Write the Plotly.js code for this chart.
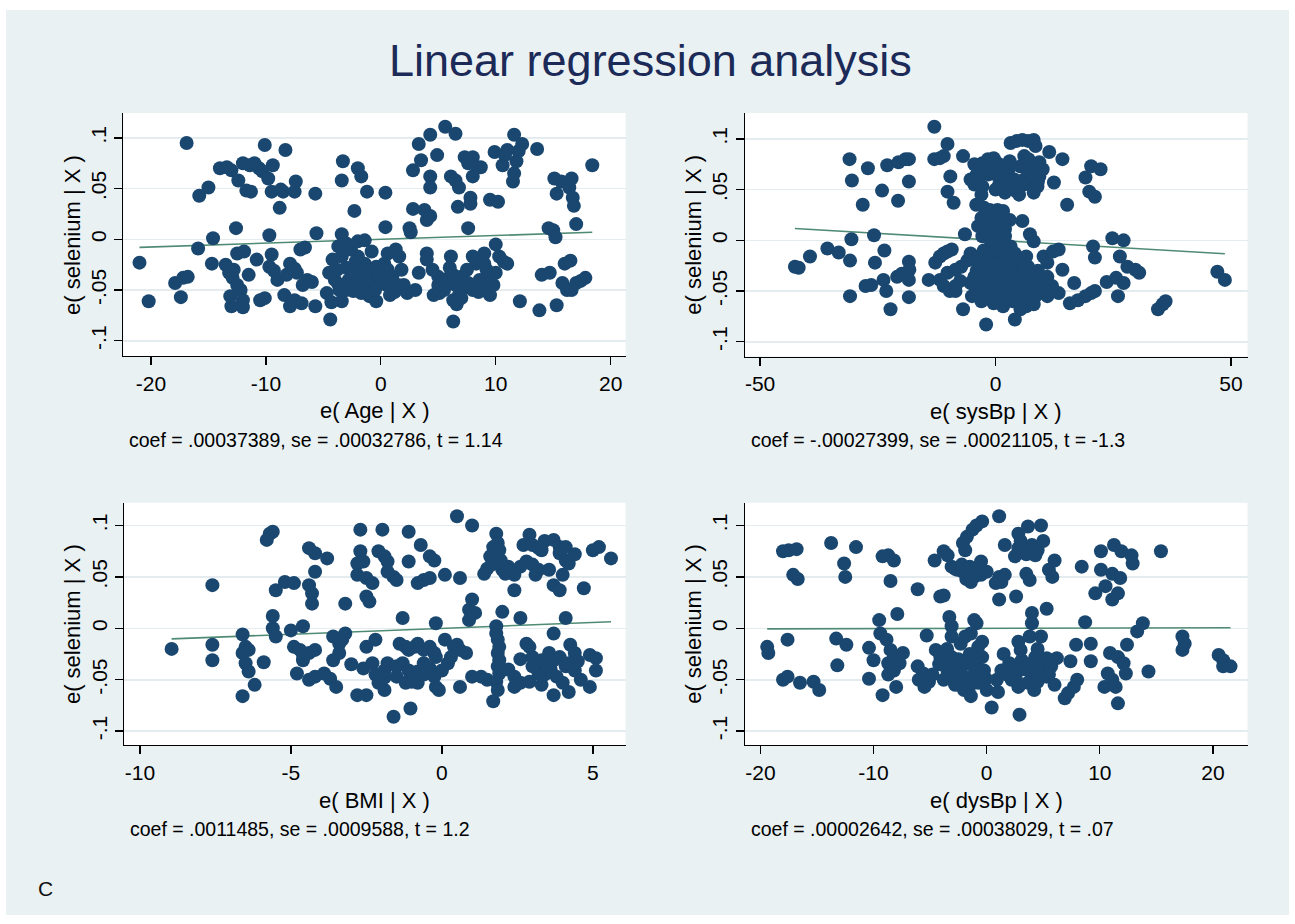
<!DOCTYPE html>
<html><head><meta charset="utf-8">
<script src="https://cdn.plot.ly/plotly-3.0.1.min.js"></script>
<style>html,body{margin:0;padding:0;background:#fff}#chart{width:1295px;height:924px}</style>
</head><body><div id="chart"></div>
<script>
// ---- data: [e(x|X), e(selenium|X)] ----
const agePoints = [[-21.0,-0.023],[-20.2,-0.061],[-16.9,0.095],[-17.9,-0.043],[-17.2,-0.038],[-16.8,-0.037],[-17.4,-0.057],[-15.8,0.043],[-15.0,0.051],[-15.9,-0.009],[-14.6,0.001],[-14.7,-0.024],[-14.0,0.070],[-13.4,0.071],[-13.0,0.068],[-13.5,-0.025],[-13.2,-0.033],[-12.9,-0.038],[-12.5,-0.045],[-12.2,-0.050],[-13.1,-0.056],[-13.0,-0.066],[-12.0,-0.067],[-12.6,0.011],[-12.4,0.058],[-11.7,0.048],[-11.3,0.047],[-12.5,-0.014],[-11.9,-0.012],[-12.0,0.075],[-11.4,0.073],[-11.0,0.075],[-10.6,0.070],[-10.3,0.067],[-10.5,-0.060],[-10.1,-0.058],[-10.8,-0.020],[-10.1,0.093],[-9.7,0.004],[-9.8,0.060],[-9.5,-0.015],[-9.4,0.073],[-9.5,0.047],[-8.7,0.049],[-8.5,0.047],[-8.8,0.031],[-9.0,-0.040],[-9.7,-0.027],[-9.3,-0.031],[-8.3,0.088],[-8.4,-0.055],[-7.9,-0.066],[-7.5,-0.060],[-7.9,-0.024],[-7.5,-0.029],[-7.3,-0.033],[-7.0,-0.010],[-6.6,-0.008],[-7.4,0.057],[-7.5,0.047],[-6.9,-0.063],[-5.7,-0.066],[-6.4,-0.040],[-6.0,-0.042],[-5.7,0.045],[-5.6,0.006],[-4.7,-0.053],[-4.4,-0.079],[-4.5,-0.033],[-4.0,-0.040],[-3.7,-0.044],[-3.4,-0.061],[-3.3,0.077],[-3.4,0.058],[-2.0,0.070],[-1.7,0.062],[-1.2,0.047],[-2.3,0.028],[-3.4,0.005],[-3.7,-0.007],[-3.4,-0.017],[-3.0,-0.004],[-2.6,-0.010],[-2.0,-0.002],[-1.4,-0.001],[-2.0,-0.017],[-1.4,-0.024],[-3.0,-0.050],[-2.4,-0.051],[-1.7,-0.053],[-1.0,-0.056],[-0.4,-0.061],[-2.0,-0.033],[-1.4,-0.040],[-0.7,-0.037],[-0.4,-0.027],[0.3,-0.024],[0.6,-0.030],[1.0,-0.037],[0.4,0.046],[0.4,0.012],[0.6,-0.014],[1.3,-0.010],[1.6,-0.017],[2.0,-0.045],[2.3,-0.053],[3.0,-0.050],[3.3,-0.033],[2.8,0.068],[3.5,0.078],[3.3,0.094],[4.3,0.103],[3.8,0.029],[4.0,0.019],[4.3,0.023],[4.3,0.062],[4.3,0.051],[4.9,0.083],[2.8,0.030],[2.5,0.011],[2.6,0.007],[4.0,-0.014],[4.0,-0.020],[5.0,-0.037],[5.3,-0.043],[5.1,-0.053],[5.7,-0.040],[6.0,-0.037],[5.6,0.111],[6.5,0.104],[6.1,0.062],[6.5,0.058],[6.8,0.051],[6.7,0.032],[7.3,0.081],[7.6,0.075],[8.0,0.081],[8.4,0.071],[8.0,0.062],[7.8,0.041],[7.8,0.035],[7.6,0.011],[6.1,-0.017],[6.3,-0.035],[6.3,-0.060],[6.6,-0.064],[6.3,-0.081],[7.0,-0.037],[7.6,-0.043],[8.0,-0.050],[8.6,-0.040],[9.0,-0.050],[9.3,-0.037],[9.5,-0.055],[8.0,-0.017],[8.3,-0.024],[9.0,-0.024],[9.0,-0.014],[8.7,0.071],[9.5,0.039],[10.2,0.037],[10.0,-0.005],[10.3,-0.017],[10.7,-0.022],[11.0,-0.024],[9.9,0.086],[10.6,0.073],[10.8,0.083],[11.0,0.088],[11.5,0.057],[11.6,0.065],[11.8,0.077],[12.0,0.087],[11.6,0.103],[12.3,0.094],[10.0,-0.033],[12.1,-0.061],[13.6,0.089],[14.0,-0.035],[14.7,-0.033],[13.8,-0.070],[15.3,-0.065],[14.6,0.011],[15.0,0.009],[15.2,0.002],[15.1,0.060],[15.3,0.045],[15.7,0.057],[16.6,0.060],[16.4,0.051],[15.8,-0.043],[16.2,-0.050],[16.6,-0.050],[17.0,-0.043],[17.4,-0.041],[17.8,-0.038],[16.7,0.041],[16.8,0.033],[17.0,0.015],[16.0,-0.024],[16.5,-0.021],[18.4,0.073],[-1.0,-0.045],[0.0,-0.040],[-0.5,-0.050],[1.5,-0.045],[0.8,-0.055],[-2.5,-0.040],[5.5,-0.050],[7.2,-0.048],[8.8,-0.045],[6.8,-0.055],[9.8,-0.045],[-12.8,-0.030],[-11.5,-0.035],[-12.0,-0.060],[-6.8,-0.045],[-8.2,-0.035],[-4.2,-0.020],[-3.8,-0.030],[-3.0,-0.028],[-2.2,-0.022],[-1.8,-0.045],[-1.0,-0.030],[-0.2,-0.035],[0.5,-0.045],[1.2,-0.052],[-2.8,-0.040],[-3.6,-0.050],[4.5,-0.030],[5.0,-0.045],[6.0,-0.028],[6.5,-0.045],[7.5,-0.030],[8.5,-0.052],[9.2,-0.030],[4.6,-0.055],[7.0,-0.058],[-4.3,-0.062],[1.8,-0.030],[-0.8,-0.012]];

const sysBpPoints = [[-42.6,-0.026],[-41.8,-0.027],[-39.4,-0.016],[-35.7,-0.008],[-33.3,-0.012],[-31.0,0.080],[-30.5,0.059],[-30.6,0.001],[-30.9,-0.020],[-30.9,-0.055],[-28.2,0.035],[-27.1,0.071],[-25.8,0.005],[-25.6,-0.022],[-27.6,-0.045],[-26.4,-0.044],[-24.1,0.049],[-23.6,-0.010],[-23.8,-0.039],[-23.2,-0.050],[-22.3,-0.068],[-23.0,0.074],[-20.7,0.039],[-20.6,0.077],[-19.1,0.080],[-18.4,0.080],[-18.4,0.058],[-20.9,-0.036],[-19.9,-0.033],[-18.4,-0.021],[-18.3,-0.029],[-18.4,-0.039],[-18.4,-0.056],[-14.2,-0.039],[-12.8,-0.022],[-11.8,-0.016],[-11.0,-0.013],[-10.2,-0.011],[-9.3,-0.009],[-13.0,0.080],[-11.8,0.081],[-11.0,0.083],[-13.0,0.112],[-10.2,0.095],[-9.6,0.063],[-10.2,0.048],[-8.9,0.037],[-11.8,-0.039],[-11.0,-0.045],[-9.7,-0.050],[-8.5,-0.045],[-10.2,-0.032],[-8.5,-0.029],[-7.3,-0.026],[-6.9,0.083],[-6.5,0.006],[-6.9,-0.068],[-5.3,0.060],[-4.5,0.055],[-3.7,0.058],[-2.8,0.053],[-4.5,0.075],[-2.8,0.076],[-1.6,0.080],[-0.4,0.081],[0.4,0.076],[1.2,0.073],[-4.1,0.035],[-2.4,0.032],[-1.2,0.030],[0.4,0.030],[1.6,0.029],[-3.7,0.014],[-2.0,0.017],[-0.4,0.012],[1.2,0.015],[2.0,0.011],[-2.8,0.004],[-1.2,0.006],[0.4,0.001],[-5.3,-0.013],[-4.5,-0.019],[-3.7,-0.016],[-2.8,-0.026],[-2.0,-0.022],[-1.2,-0.029],[-0.4,-0.013],[0.4,-0.019],[1.6,-0.009],[2.4,-0.016],[3.2,-0.006],[4.1,-0.013],[4.9,-0.026],[5.7,-0.019],[6.5,-0.016],[6.9,-0.026],[-5.3,-0.042],[-4.1,-0.049],[-2.8,-0.045],[-1.6,-0.052],[-0.4,-0.049],[0.4,-0.042],[1.6,-0.045],[2.8,-0.052],[3.7,-0.055],[4.5,-0.049],[5.7,-0.042],[6.5,-0.052],[7.3,-0.055],[8.5,-0.050],[9.3,-0.042],[10.2,-0.039],[-4.5,-0.036],[-2.0,-0.036],[0.4,-0.034],[2.8,-0.037],[5.3,-0.034],[7.7,-0.036],[-2.0,-0.083],[-0.4,-0.062],[1.6,-0.065],[3.7,-0.060],[5.3,-0.068],[6.5,-0.065],[8.1,-0.063],[4.1,-0.078],[3.2,0.096],[4.5,0.098],[5.7,0.099],[6.9,0.098],[8.1,0.099],[8.5,0.093],[6.1,0.083],[5.3,0.073],[6.9,0.070],[6.1,0.060],[7.7,0.058],[8.9,0.053],[9.3,0.063],[8.1,0.047],[2.8,0.070],[2.4,0.055],[3.7,0.050],[2.0,0.047],[4.5,0.048],[5.7,0.019],[7.3,0.006],[8.1,-0.001],[11.4,0.087],[9.3,0.077],[12.4,0.057],[14.2,0.080],[15.2,0.035],[10.2,-0.016],[11.0,-0.022],[12.2,-0.011],[13.4,-0.009],[14.2,-0.029],[11.0,-0.036],[11.0,-0.055],[13.4,-0.052],[15.8,-0.062],[16.7,-0.042],[17.5,-0.059],[19.1,-0.055],[20.3,-0.052],[21.1,-0.050],[19.1,0.062],[20.3,0.073],[22.3,0.070],[19.9,0.048],[21.1,0.043],[20.7,-0.006],[21.1,-0.017],[24.8,0.002],[27.2,0.000],[23.6,-0.041],[25.6,-0.037],[27.2,-0.042],[26.4,-0.016],[26.0,-0.055],[28.0,-0.026],[29.7,-0.029],[30.5,-0.032],[34.5,-0.068],[35.5,-0.063],[36.1,-0.060],[47.1,-0.031],[48.7,-0.039],[-1.0,-0.005],[1.0,-0.030],[-3.0,-0.060],[2.0,-0.020],[-1.5,0.065],[0.8,0.055],[3.0,-0.040],[-0.8,-0.045],[1.8,-0.058],[-2.5,-0.010],[-6.0,-0.020],[-4.0,-0.030],[-2.0,-0.040],[0.0,-0.025],[2.0,-0.035],[4.0,-0.045],[6.0,-0.030],[8.0,-0.045],[-5.0,-0.055],[-1.0,-0.058],[3.0,-0.030],[5.0,-0.058],[7.0,-0.040],[9.0,-0.030],[1.0,-0.050],[-3.0,-0.045],[0.0,-0.010],[-1.5,-0.020],[3.5,-0.020],[6.0,-0.045],[8.5,-0.055],[-3.5,-0.028],[1.2,-0.062],[10.5,-0.048],[12.0,-0.045],[-7.5,-0.040],[-8.5,-0.050],[-4.0,0.065],[-2.0,0.070],[0.0,0.065],[2.0,0.060],[4.0,0.060],[6.0,0.055],[8.0,0.065],[10.0,0.070],[-3.0,0.045],[0.0,0.050],[5.0,0.045],[9.0,0.058],[7.0,0.080],[-1.0,0.075],[3.0,0.078],[-3.0,0.022],[-1.0,0.020],[1.0,0.022],[3.0,0.020],[-2.0,0.008],[0.0,0.008],[2.0,0.004]];

const bmiPoints = [[-8.95,-0.020],[-7.6,0.042],[-7.6,-0.016],[-7.6,-0.031],[-6.6,-0.006],[-6.5,-0.018],[-6.4,-0.021],[-6.6,-0.024],[-6.5,-0.034],[-6.4,-0.042],[-6.6,-0.066],[-6.2,-0.055],[-5.9,-0.033],[-5.8,0.086],[-5.7,0.092],[-5.6,0.094],[-5.6,0.012],[-5.6,0.000],[-5.5,-0.008],[-5.5,0.037],[-5.2,0.045],[-4.9,0.044],[-5.0,-0.002],[-4.9,-0.018],[-4.7,-0.021],[-4.6,-0.026],[-4.4,-0.024],[-4.6,-0.031],[-4.2,-0.021],[-4.8,-0.044],[-4.4,-0.050],[-4.2,-0.047],[-3.9,-0.044],[-3.7,-0.049],[-3.5,-0.057],[-4.6,0.002],[-4.4,0.042],[-4.3,0.034],[-4.3,0.024],[-4.4,0.078],[-4.2,0.073],[-3.8,0.068],[-4.2,0.055],[-3.6,-0.008],[-3.4,-0.015],[-3.3,-0.011],[-3.2,-0.005],[-3.6,-0.031],[-3.4,-0.024],[-3.2,0.024],[-2.8,-0.065],[-2.5,-0.065],[-2.7,0.096],[-2.7,0.075],[-2.6,0.065],[-2.8,0.063],[-2.8,0.052],[-2.5,0.049],[-2.3,0.044],[-2.5,0.031],[-2.4,0.026],[-2.5,-0.018],[-2.2,-0.011],[-2.6,-0.039],[-2.3,-0.034],[-2.2,-0.045],[-1.9,-0.041],[-1.8,-0.034],[-2.1,-0.053],[-1.9,-0.060],[-1.97,0.096],[-2.1,0.075],[-1.9,0.070],[-1.8,0.065],[-1.8,0.055],[-1.6,0.050],[-1.5,0.047],[-1.6,-0.086],[-1.04,-0.078],[-1.3,0.010],[-1.4,-0.015],[-1.2,-0.018],[-1.1,-0.021],[-0.9,-0.018],[-0.8,-0.015],[-0.6,-0.021],[-0.4,-0.018],[-0.25,-0.024],[-1.5,-0.037],[-1.3,-0.034],[-1.1,-0.041],[-0.95,-0.047],[-0.8,-0.042],[-0.6,-0.034],[-0.4,-0.039],[-0.25,-0.047],[-0.2,-0.057],[-0.1,-0.060],[-1.5,-0.047],[-1.2,-0.053],[-1.0,-0.052],[-0.8,-0.053],[-1.1,0.094],[-0.7,0.081],[-0.4,0.070],[-0.25,0.066],[-1.1,0.065],[-0.8,0.044],[-0.6,0.047],[-0.4,0.049],[-0.2,0.005],[0.1,0.052],[0.1,-0.011],[0.4,-0.018],[0.5,-0.016],[0.6,-0.021],[0.8,-0.024],[0.2,-0.034],[0.3,-0.028],[0.0,-0.041],[0.6,-0.057],[0.5,0.109],[1.0,0.100],[0.6,0.049],[0.9,0.018],[1.0,0.028],[1.1,0.015],[0.9,0.008],[1.0,-0.047],[1.3,-0.047],[1.5,-0.050],[1.4,0.053],[1.5,0.058],[1.65,0.062],[1.8,0.070],[1.7,0.079],[1.8,0.092],[1.85,0.083],[1.9,0.076],[1.95,0.066],[2.0,0.057],[2.1,0.053],[2.2,0.060],[2.4,0.052],[1.8,0.002],[1.8,-0.005],[1.85,-0.011],[1.9,-0.018],[1.85,-0.024],[1.9,-0.031],[1.85,-0.037],[1.9,-0.044],[1.8,-0.052],[1.85,-0.060],[1.7,-0.071],[2.0,0.016],[2.4,0.037],[2.6,0.010],[2.4,-0.047],[2.6,-0.053],[2.4,-0.057],[2.8,-0.015],[2.9,-0.018],[3.0,-0.028],[3.0,-0.037],[3.2,-0.034],[3.3,-0.031],[3.2,-0.044],[2.9,-0.052],[2.7,0.081],[2.9,0.091],[3.0,0.081],[3.2,0.078],[3.3,0.076],[2.8,0.065],[3.0,0.062],[3.2,0.057],[3.1,0.052],[3.55,0.057],[3.7,0.042],[3.9,0.037],[3.7,0.086],[3.9,0.079],[3.9,0.073],[4.1,0.079],[4.1,0.066],[4.0,0.052],[4.2,0.063],[4.1,0.010],[3.7,-0.005],[3.55,-0.024],[3.7,-0.031],[3.9,-0.028],[4.1,-0.037],[4.2,-0.034],[3.8,-0.047],[4.0,-0.053],[3.7,-0.065],[4.2,-0.062],[4.25,-0.016],[4.4,-0.024],[4.4,-0.041],[4.7,0.039],[4.9,-0.026],[5.1,-0.029],[5.1,-0.041],[4.9,-0.057],[5.0,0.076],[5.2,0.079],[5.6,0.068],[2.2,-0.040],[3.4,-0.045],[3.6,-0.040],[4.5,-0.032],[4.6,-0.050],[3.3,-0.055],[2.6,-0.030],[-0.6,-0.045],[-1.9,-0.048],[-3.0,-0.035],[4.4,0.072],[3.4,0.085],[2.6,0.060],[1.6,0.070],[-0.2,-0.028]];

const dysBpPoints = [[-19.4,-0.018],[-19.3,-0.024],[-18.0,-0.050],[-17.6,-0.047],[-18.0,0.075],[-17.5,0.076],[-16.8,0.077],[-17.1,0.052],[-16.7,0.048],[-17.6,-0.011],[-16.5,-0.053],[-15.3,-0.052],[-14.8,-0.060],[-13.75,0.083],[-13.3,-0.010],[-13.2,-0.036],[-12.6,0.063],[-12.5,0.050],[-12.4,-0.016],[-11.55,0.079],[-10.4,-0.019],[-10.0,-0.031],[-10.4,-0.049],[-9.5,0.008],[-9.4,-0.005],[-9.2,0.070],[-8.7,0.071],[-8.2,0.066],[-8.5,0.046],[-8.85,-0.011],[-8.5,-0.021],[-8.2,-0.028],[-8.7,-0.034],[-8.2,-0.041],[-7.7,-0.034],[-7.4,-0.024],[-9.2,-0.065],[-8.7,-0.045],[-8.0,-0.057],[-7.9,0.014],[-6.1,0.038],[-6.1,-0.037],[-5.6,-0.044],[-6.0,-0.050],[-5.5,-0.057],[-5.1,-0.052],[-4.8,-0.045],[-5.3,-0.007],[-4.5,-0.021],[-4.1,-0.028],[-3.6,-0.034],[-3.1,-0.028],[-3.45,-0.042],[-2.8,-0.047],[-2.3,-0.041],[-1.75,-0.034],[-1.4,-0.047],[-1.1,-0.052],[-0.75,-0.053],[-1.6,-0.060],[-1.4,-0.066],[-4.1,0.031],[-3.8,0.032],[-4.6,0.066],[-3.8,0.075],[-3.45,0.071],[-3.3,0.011],[-3.1,0.002],[-3.1,-0.008],[-3.1,0.060],[-2.6,0.057],[-2.1,0.055],[-1.6,0.053],[-1.1,0.050],[-1.4,0.045],[-0.75,0.057],[-2.1,0.083],[-1.9,0.076],[-1.75,0.089],[-1.25,0.096],[-0.9,0.100],[-0.4,0.104],[-2.3,-0.015],[-1.9,-0.008],[-1.4,-0.005],[-0.9,0.005],[-1.1,0.008],[-0.75,-0.018],[-0.4,-0.013],[-0.4,-0.028],[-0.9,-0.034],[-0.24,-0.041],[-0.07,-0.049],[0.44,-0.077],[0.9,-0.050],[1.1,0.109],[1.1,0.050],[1.3,0.045],[0.8,0.044],[1.6,0.052],[1.1,0.028],[1.6,0.081],[1.3,-0.041],[1.8,-0.045],[2.3,-0.041],[2.0,-0.034],[2.8,0.092],[2.6,0.031],[2.8,-0.013],[3.0,-0.021],[3.1,-0.031],[2.6,-0.050],[2.8,-0.057],[2.9,-0.084],[2.8,0.078],[3.3,0.075],[3.65,0.078],[4.0,0.081],[4.3,0.071],[3.5,0.053],[3.8,0.047],[3.65,0.099],[4.8,0.100],[4.0,0.015],[4.0,0.005],[3.8,-0.008],[4.8,-0.008],[4.3,-0.028],[4.8,-0.034],[5.3,-0.029],[4.7,-0.041],[4.0,-0.047],[3.65,-0.053],[4.5,-0.052],[5.3,-0.047],[5.7,-0.037],[6.2,-0.029],[5.3,0.019],[5.5,0.057],[5.8,0.050],[6.0,0.066],[6.9,-0.068],[7.2,-0.063],[7.7,-0.057],[8.0,-0.050],[7.9,-0.016],[7.4,-0.032],[8.4,0.060],[8.7,0.006],[9.2,-0.015],[9.2,-0.032],[9.6,0.034],[10.1,0.075],[10.1,0.057],[10.5,0.041],[10.4,-0.057],[10.7,-0.044],[11.1,-0.050],[11.4,-0.057],[11.6,-0.073],[10.9,-0.024],[11.6,-0.028],[12.1,-0.034],[12.3,-0.044],[11.1,0.028],[11.6,0.034],[11.1,0.053],[11.8,0.049],[11.25,0.081],[11.9,0.075],[12.8,0.071],[12.9,0.063],[12.4,-0.016],[13.3,-0.003],[13.8,0.005],[14.3,-0.042],[15.4,0.075],[17.3,-0.008],[17.5,-0.015],[17.3,-0.021],[20.5,-0.026],[20.9,-0.031],[20.9,-0.037],[21.55,-0.037],[-2.0,-0.050],[-1.0,-0.040],[-2.5,-0.055],[0.0,0.055],[-0.5,0.065],[3.5,-0.040],[4.2,-0.060],[-3.0,-0.050],[-4.2,-0.035],[-3.8,-0.050],[-3.0,-0.040],[-2.5,-0.030],[-2.0,-0.060],[-1.5,-0.025],[-1.0,-0.030],[-0.5,-0.045],[0.0,-0.060],[-3.5,-0.020],[-2.8,-0.055],[1.5,-0.025],[2.2,-0.050],[3.0,-0.040],[3.8,-0.035],[4.5,-0.020],[5.5,-0.045],[6.0,-0.055],[1.0,-0.062],[-2.8,0.058],[-2.2,0.062],[-1.5,0.060],[-1.0,0.058],[-0.5,0.052],[-1.8,0.048],[3.0,0.085],[3.5,0.072],[4.5,0.076],[5.0,0.085],[2.5,0.070]];

// fitted lines (end points)
const ageFitX = [-21.0, 18.4],  ageFitY = [-0.0079, 0.0069];
const sysFitX = [-42.6, 48.7],  sysFitY = [0.0117, -0.0133];
const bmiFitX = [-8.95, 5.6],   bmiFitY = [-0.0103, 0.0064];
const dysFitX = [-19.4, 21.55], dysFitY = [-0.0005, 0.0006];

// tick labels
const yTickVals = [-0.1, -0.05, 0, 0.05, 0.1];
const yTickText = ['-.1', '-.05', '0', '.05', '.1'];
const ageTicks = [-20, -10, 0, 10, 20];
const sysTicks = [-50, 0, 50];
const bmiTicks = [-10, -5, 0, 5];
const dysTicks = [-20, -10, 0, 10, 20];

// texts
const mainTitle = 'Linear regression analysis';
const yTitle = 'e( selenium | X )';
const xTitles = ['e( Age | X )', 'e( sysBp | X )', 'e( BMI | X )', 'e( dysBp | X )'];
const notes = ['coef = .00037389, se = .00032786, t = 1.14',
               'coef = -.00027399, se = .00021105, t = -1.3',
               'coef = .0011485, se = .0009588, t = 1.2',
               'coef = .00002642, se = .00038029, t = .07'];
const panelLabel = 'C';

// ---- drawing ----
const W = 1295, H = 924;
const FONT = 'Liberation Sans, Arial, sans-serif';
const NAVY = '#1a476f', LINE = '#4f8b74', BG = '#e9f1f3', GRID = '#e4ecef';
const px = v => v / W, py = v => 1 - v / H;

const sets = [agePoints, sysBpPoints, bmiPoints, dysBpPoints];
const fits = [[ageFitX, ageFitY], [sysFitX, sysFitY], [bmiFitX, bmiFitY], [dysFitX, dysFitY]];
const traces = [];
sets.forEach((pts, i) => {
  const ax = i === 0 ? '' : String(i + 1);
  traces.push({type: 'scatter', mode: 'lines', x: fits[i][0], y: fits[i][1],
    xaxis: 'x' + ax, yaxis: 'y' + ax, line: {color: LINE, width: 1.6},
    hoverinfo: 'skip', showlegend: false});
  traces.push({type: 'scatter', mode: 'markers', x: pts.map(p => p[0]), y: pts.map(p => p[1]),
    xaxis: 'x' + ax, yaxis: 'y' + ax, marker: {color: NAVY, size: 14, line: {width: 0}},
    hoverinfo: 'x+y', showlegend: false});
});

// panel boxes in pixels: [left, right, top, bottom]
const boxes = [[123.4, 625.6, 113, 356], [745, 1247.5, 113, 356.5],
               [124.2, 625.5, 502.7, 745], [745, 1247.5, 502.7, 745]];
const xRanges = [[-22.4, 21.3], [-53.2, 53.5], [-10.52, 6.08], [-21.36, 23.05]];
const yRanges = [[-0.115, 0.1245], [-0.1145, 0.1255], [-0.1135, 0.1222], [-0.1135, 0.1222]];
const xTicks = [ageTicks, sysTicks, bmiTicks, dysTicks];

const layout = {
  width: W, height: H, margin: {l: 0, r: 0, t: 0, b: 0},
  paper_bgcolor: BG, plot_bgcolor: '#ffffff', showlegend: false,
  font: {family: FONT, color: '#000'},
  shapes: [
    {type: 'rect', xref: 'paper', yref: 'paper', x0: 0, x1: 1, y0: py(10), y1: 1, fillcolor: '#fff', line: {width: 0}},
    {type: 'rect', xref: 'paper', yref: 'paper', x0: 0, x1: 1, y0: 0, y1: py(915), fillcolor: '#fff', line: {width: 0}},
    {type: 'rect', xref: 'paper', yref: 'paper', x0: 0, x1: px(6), y0: 0, y1: 1, fillcolor: '#fff', line: {width: 0}},
    {type: 'rect', xref: 'paper', yref: 'paper', x0: px(1289), x1: 1, y0: 0, y1: 1, fillcolor: '#fff', line: {width: 0}}
  ],
  annotations: []
};

const axisCommon = {showline: true, linecolor: '#000', linewidth: 1.3, ticks: 'outside', ticklen: 8,
  tickwidth: 1.3, tickcolor: '#000', zeroline: false, tickfont: {family: FONT, size: 21, color: '#000'},
  fixedrange: true};

boxes.forEach((b, i) => {
  const s = i === 0 ? '' : String(i + 1);
  layout['xaxis' + s] = Object.assign({}, axisCommon, {
    domain: [px(b[0]), px(b[1])], anchor: 'y' + s, range: xRanges[i],
    tickmode: 'array', tickvals: xTicks[i], ticktext: xTicks[i].map(String), showgrid: false});
  layout['yaxis' + s] = Object.assign({}, axisCommon, {
    domain: [py(b[3]), py(b[2])], anchor: 'x' + s, range: yRanges[i],
    tickmode: 'array', tickvals: yTickVals, ticktext: yTickText, tickangle: -90,
    showgrid: true, gridcolor: GRID, gridwidth: 1.6});
  const cx = (b[0] + b[1]) / 2, cy = (b[2] + b[3]) / 2;
  layout.annotations.push({xref: 'paper', yref: 'paper', x: px(b[0] - 51), y: py(cy), text: yTitle,
    textangle: -90, showarrow: false, xanchor: 'center', yanchor: 'middle',
    font: {family: FONT, size: 22, color: '#000'}});
  layout.annotations.push({xref: 'paper', yref: 'paper', x: px(cx), y: py(b[3] + 55), text: xTitles[i],
    showarrow: false, xanchor: 'center', yanchor: 'middle', font: {family: FONT, size: 22, color: '#000'}});
  layout.annotations.push({xref: 'paper', yref: 'paper', x: px(b[0] + 4), y: py(b[3] + 84), text: notes[i],
    showarrow: false, xanchor: 'left', yanchor: 'middle', font: {family: FONT, size: 19.5, color: '#000'}});
});

layout.annotations.push({xref: 'paper', yref: 'paper', x: px(650), y: py(60), text: mainTitle,
  showarrow: false, xanchor: 'center', yanchor: 'middle', font: {family: FONT, size: 45, color: '#1c2a58'}});
layout.annotations.push({xref: 'paper', yref: 'paper', x: px(45), y: py(888), text: panelLabel,
  showarrow: false, xanchor: 'center', yanchor: 'middle', font: {family: FONT, size: 21, color: '#111'}});

Plotly.newPlot('chart', traces, layout, {displayModeBar: false, staticPlot: true});
</script>
</body></html>
